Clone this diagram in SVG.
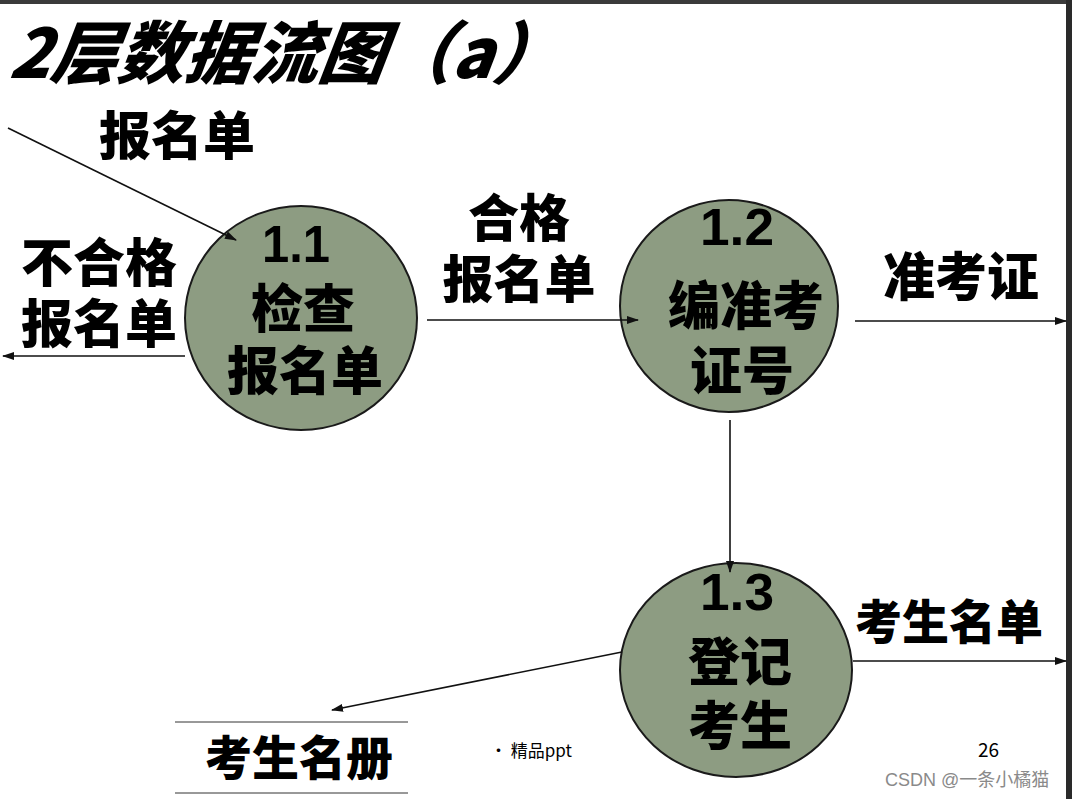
<svg xmlns="http://www.w3.org/2000/svg" width="1072" height="799" viewBox="0 0 1072 799">
<defs>
<marker id="ah" markerWidth="12" markerHeight="8" refX="11" refY="4" orient="auto" markerUnits="userSpaceOnUse">
<path d="M0,0 L12,4 L0,8 Z" fill="#111"/>
</marker>
<style>
.bub{fill:#8d9c82;stroke:#1a1a1a;stroke-width:2}
.cn{font-family:"Noto Sans CJK SC","Liberation Sans",sans-serif;font-weight:900;fill:#000;text-anchor:middle}
.num{font-family:"Liberation Sans","Noto Sans CJK SC",sans-serif;font-weight:bold;fill:#000;text-anchor:middle}
.ln{stroke:#111;stroke-width:1.6;fill:none;marker-end:url(#ah)}
.small{font-family:"Noto Sans CJK SC","Liberation Sans",sans-serif;fill:#000}
</style>
</defs>
<rect x="0" y="0" width="1072" height="799" fill="#fff"/>
<rect x="0" y="0" width="1072" height="4" fill="#3a3a3a"/>
<rect x="1066" y="0" width="6" height="799" fill="#2a2a2a"/>

<text x="8" y="78" font-family="Noto Sans CJK SC, Liberation Sans, sans-serif" font-weight="900" font-size="68" font-style="italic" transform="skewX(-8) translate(11,0)" textLength="550" lengthAdjust="spacingAndGlyphs">2层数据流图（a）</text>

<g id="p1_1">
<ellipse class="bub" cx="301" cy="318" rx="116" ry="112"/>
<text class="num" x="296" y="262" font-size="52" textLength="68" lengthAdjust="spacingAndGlyphs">1.1</text>
<text class="cn" x="303" y="328" font-size="52">检查</text>
<text class="cn" x="305" y="390" font-size="52">报名单</text>
</g>

<g id="p1_2">
<ellipse class="bub" cx="729" cy="306" rx="109" ry="106"/>
<text class="num" x="737" y="245" font-size="52" textLength="74" lengthAdjust="spacingAndGlyphs">1.2</text>
<text class="cn" x="746" y="325" font-size="52">编准考</text>
<text class="cn" x="742" y="390" font-size="52">证号</text>
</g>

<g id="p1_3">
<ellipse class="bub" cx="736" cy="670" rx="116" ry="107"/>
<text class="num" x="737" y="610" font-size="52" textLength="74" lengthAdjust="spacingAndGlyphs">1.3</text>
<text class="cn" x="740" y="681" font-size="52">登记</text>
<text class="cn" x="740" y="745" font-size="52">考生</text>
</g>

<g id="store">
<line x1="175" y1="722" x2="408" y2="722" stroke="#333" stroke-width="1"/>
<line x1="175" y1="793" x2="408" y2="793" stroke="#333" stroke-width="1"/>
<text class="cn" x="299" y="775" font-size="47">考生名册</text>
</g>

<g id="connectors">
<line class="ln" x1="8" y1="128" x2="236" y2="240"/>
<line class="ln" x1="185" y1="356" x2="3" y2="356"/>
<line class="ln" x1="427" y1="320" x2="638" y2="320"/>
<line class="ln" x1="855" y1="321" x2="1066" y2="321"/>
<line class="ln" x1="730" y1="420" x2="730" y2="572"/>
<line class="ln" x1="853" y1="661" x2="1066" y2="661"/>
<line class="ln" x1="622" y1="652" x2="332" y2="710"/>
<text class="cn" x="177" y="155" font-size="52">报名单</text>
<text class="cn" x="99" y="282" font-size="52">不合格</text>
<text class="cn" x="99" y="343" font-size="52">报名单</text>
<text class="cn" x="519" y="237" font-size="51">合格</text>
<text class="cn" x="519" y="298" font-size="51">报名单</text>
<text class="cn" x="961" y="296" font-size="52">准考证</text>
<text class="cn" x="949" y="639" font-size="47">考生名单</text>
</g>

<text class="small" x="490" y="757" font-size="17">• 精品ppt</text>
<text class="small" x="978" y="757" font-size="19">26</text>
<text x="885" y="786" font-family="Liberation Sans, Noto Sans CJK SC, sans-serif" font-size="18" fill="#8a8a8a">CSDN @一条小橘猫</text>
</svg>
